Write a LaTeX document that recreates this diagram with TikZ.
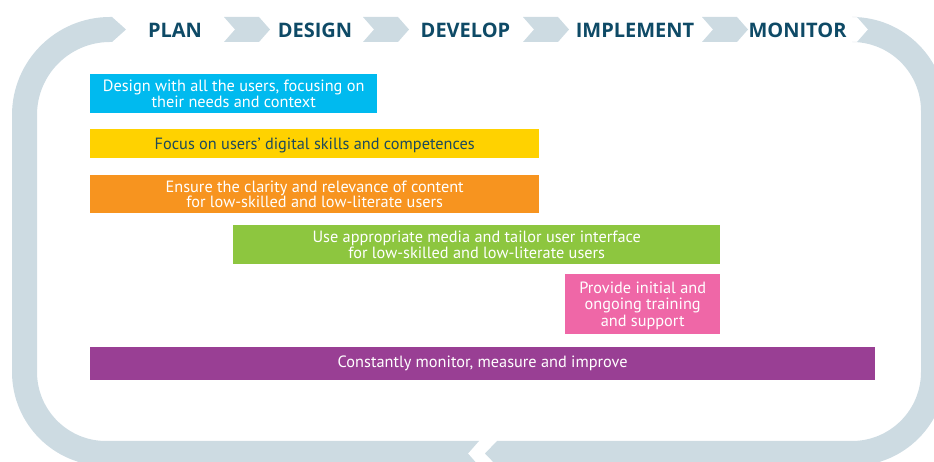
\documentclass[tikz,border=0pt]{standalone}
\usepackage{fontspec}
\setmainfont{PT Sans}
\newfontfamily\labfont{Open Sans}
\definecolor{band}{HTML}{CDDBE2}
\definecolor{labc}{HTML}{0E4A66}
\definecolor{cyb}{HTML}{00BAEF}
\definecolor{yeb}{HTML}{FFD200}
\definecolor{orb}{HTML}{F7941F}
\definecolor{grb}{HTML}{8DC63F}
\definecolor{pkb}{HTML}{EF67A7}
\definecolor{pub}{HTML}{993F94}
\definecolor{dtext}{HTML}{1E4A5C}
\begin{document}
\begin{tikzpicture}[x=1pt,y=1pt,
  box/.style={rectangle, inner sep=0pt, anchor=north west, align=center, text=white,
              font=\fontsize{16.3}{15.5}\selectfont},
  lab/.style={font=\labfont\fontsize{20}{22}\selectfont\bfseries, text=labc},
  chev/.style={fill=band}]
\useasboundingbox (0,0) rectangle (934,462);
\begin{scope}
\clip (0,0) rectangle (934,462);
% left piece of the loop
\fill[band] (479,21) -- (468,8.5) -- (479,-4) -- (106,-4)
  arc[start angle=270,end angle=180,radius=94] -- (12,347)
  arc[start angle=180,end angle=90,radius=98] -- (112,445) -- (126,432.5) -- (112,420) -- (110,420)
  arc[start angle=90,end angle=180,radius=73] -- (37,90)
  arc[start angle=180,end angle=270,radius=69] -- cycle;
% right piece of the loop
\fill[band] (857,445) -- (852,445)
  arc[start angle=90,end angle=0,radius=94] -- (946,90)
  arc[start angle=0,end angle=-90,radius=94] -- (497,-4) -- (485,8.5) -- (497,21) -- (852,21)
  arc[start angle=-90,end angle=0,radius=69] -- (921,351)
  arc[start angle=0,end angle=90,radius=69] -- (857,420) -- (868,432.5) -- cycle;
\end{scope}
% chevrons
\foreach \L in {224,363,523,702}
  \fill[chev] (\L,445) -- ++(35,0) -- ++(11,-12.5) -- ++(-11,-12.5) -- ++(-35,0) -- ++(11,12.5) -- cycle;
% phase labels
\node[lab] (plan) at (175,432) {PLAN};
\node[lab] (design) at (315,432) {DESIGN};
\node[lab] (develop) at (465.5,432) {DEVELOP};
\node[lab] (implement) at (635,432) {IMPLEMENT};
\node[lab] (monitor) at (797.5,432) {MONITOR};
% boxes
\node[box, fill=cyb, minimum width=287pt, minimum height=39pt] (b1) at (90,388)
  {Design with all the users, focusing on\\their needs and context};
\node[box, fill=yeb, text=dtext, text depth=0pt, minimum width=449pt, minimum height=29pt] (b2) at (90,333)
  {Focus on users’ digital skills and competences};
\node[box, fill=orb, minimum width=449pt, minimum height=38pt] (b3) at (90,287)
  {Ensure the clarity and relevance of content\\for low-skilled and low-literate users};
\node[box, fill=grb, minimum width=487pt, minimum height=39pt] (b4) at (233,237)
  {Use appropriate media and tailor user interface\\for low-skilled and low-literate users};
\node[box, fill=pkb, font=\fontsize{16.3}{16.5}\selectfont, text depth=0pt, minimum width=155pt, minimum height=60pt] (b5) at (565,188)
  {Provide initial and\\ongoing training\\and support};
\node[box, fill=pub, minimum width=785pt, minimum height=33pt] (b6) at (90,115)
  {Constantly monitor, measure and improve};
\end{tikzpicture}
\end{document}
